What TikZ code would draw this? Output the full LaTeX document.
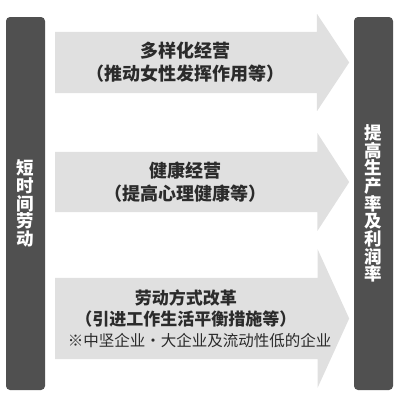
\documentclass[tikz,border=0pt]{standalone}
\usepackage{fontspec}
\setmainfont{Noto Sans CJK SC}
\usetikzlibrary{shapes.arrows, positioning}
\definecolor{bargray}{HTML}{505050}
\definecolor{arrowgray}{HTML}{E0E0E0}
\definecolor{textgray}{HTML}{2B2B2B}
% text centred a little left of the shaft middle
\newcommand{\leftcentre}{\centering\advance\rightskip 14pt\relax}

\begin{document}
\begin{tikzpicture}[x=1pt, y=-1pt,
    bar/.style={rectangle, rounded corners=4pt, fill=bargray, minimum width=39pt, minimum height=373pt, inner sep=0pt, align=center, text=white, font=\bfseries\fontsize{17.5}{17.7}\selectfont},
    flow/.style={single arrow, single arrow head indent=0pt, minimum height=294pt, fill=arrowgray, inner sep=0pt, anchor=tail, text=textgray, font=\fontsize{18}{23}\selectfont}
]
    \useasboundingbox (0,0) rectangle (400,408);

    \node [bar] (short) at (25.5,203.5) {短\\时\\间\\劳\\动};
    \node [bar] (gain) at (373.5,203.5) {提\\高\\生\\产\\率\\及\\利\\润\\率};

    \node [flow, single arrow head extend=18pt, single arrow tip angle=113] (diverse) at (55,62.5)
        {\begin{minipage}[c][61pt][c]{250pt}\leftcentre\bfseries
        多样化经营\\（推动女性发挥作用等）\end{minipage}};
    \node [flow, single arrow head extend=19pt, single arrow tip angle=114] (health) at (55,182)
        {\begin{minipage}[c][60pt][c]{250pt}\leftcentre\bfseries
        健康经营\\（提高心理健康等）\end{minipage}};
    \node [flow, single arrow head extend=28.5pt, single arrow tip angle=131] (reform) at (55,318.5)
        {\begin{minipage}[c][81pt][c]{250pt}\leftcentre\fontsize{17}{21}\selectfont
        {\bfseries 劳动方式改革\\（引进工作生活平衡措施等）}\\
        {\fontsize{15.5}{21}\selectfont ※中坚企业・大企业及流动性低的企业}\end{minipage}};
\end{tikzpicture}
\end{document}
